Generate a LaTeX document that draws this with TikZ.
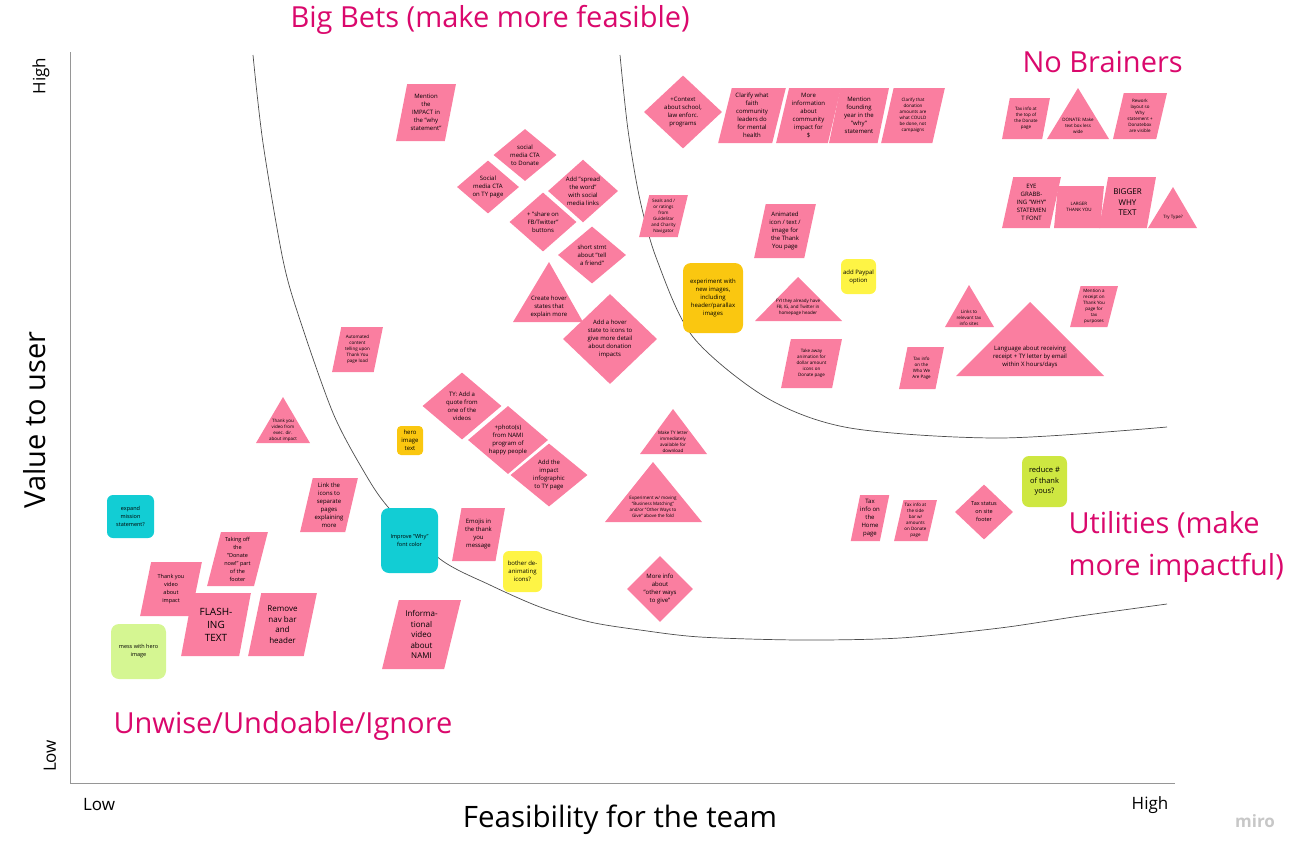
\documentclass[tikz,border=0pt]{standalone}
\usepackage{fontspec}
\setmainfont{Open Sans}
\usetikzlibrary{shapes.geometric}

\definecolor{notepink}{RGB}{250,126,160}
\definecolor{noteorange}{RGB}{250,199,16}
\definecolor{notecyan}{RGB}{18,205,212}
\definecolor{noteyellow}{RGB}{254,244,69}
\definecolor{notegreen}{RGB}{213,246,146}
\definecolor{notelime}{RGB}{206,231,65}
\definecolor{titlemag}{RGB}{218,8,108}
\definecolor{axisgray}{RGB}{150,150,150}

\begin{document}
\begin{tikzpicture}[
			x=1pt, y=-1pt,
			note/.style={inner sep=0pt, align=center, font=\fontsize{6}{8}\selectfont},
			tinytext/.style={font=\fontsize{4.5}{6}\selectfont},
			bigtext/.style={font=\fontsize{8}{10.5}\selectfont},
			hugetext/.style={font=\fontsize{10}{13}\selectfont},
			para/.style={note, trapezium, trapezium left angle=76, trapezium right angle=104,
					trapezium stretches=true, fill=notepink},
			dia/.style={note, diamond, fill=notepink},
			card/.style={note, rectangle, rounded corners=6pt},
			tri/.style={fill=notepink},
			zone/.style={text=titlemag, font=\fontsize{29}{42}\selectfont, align=left},
			axisline/.style={draw=axisgray, line width=1pt},
			boundary/.style={draw=black!70, line width=0.7pt},
			axislabel/.style={font=\fontsize{17}{20}\selectfont}
		]
		\useasboundingbox (0,0) rectangle (1304,854);

		% Axes and zone boundaries
		\draw[axisline] (70,52) -- (70,783) -- (1175,783);
		\draw[boundary] plot[smooth, tension=0.5] coordinates {(253,55) (263,143) (283,260) (300,320)
				(333,413) (363,470) (388,507) (440,559) (490,585) (540,607) (590,622) (640,630)
				(700,637) (800,640) (900,638) (1000,628) (1080,616) (1167,604)};
		\draw[boundary] plot[smooth, tension=0.5] coordinates {(620,55) (628,130) (640,200) (657,260)
				(693,337) (767,398) (850,428) (1000,438) (1167,427)};

		% Axis labels
		\node[axislabel, rotate=90] (yhigh) at (41,76) {High};
		\node[axislabel, rotate=90] (ylow) at (50,756) {Low};
		\node[axislabel] (xlow) at (99,805) {Low};
		\node[axislabel] (xhigh) at (1150,805) {High};
		\node[font=\fontsize{29}{32}\selectfont, rotate=90] (valuelabel) at (35,420) {Value to user};
		\node[font=\fontsize{29.5}{32}\selectfont] (feaslabel) at (620,820) {Feasibility for the team};
		\node[font=\fontsize{17}{20}\bfseries, text=black!22] (miro) at (1255,821) {miro};

		% Zone titles
		\node[zone, anchor=west] (bigbets) at (287,20) {Big Bets (make more feasible)};
		\node[zone, anchor=west] (nobrainers) at (1019,62) {No Brainers};
		\node[zone, anchor=base west] (utilities) at (1065,575) {Utilities (make\\more impactful)};
		\node[zone, anchor=base west] (unwise) at (110,733) {Unwise/Undoable/Ignore};

		% Big bets
		\node[para, minimum width=60, minimum height=57] (impact) at (426,112.5) {Mention\\the\\IMPACT in\\the "why\\statement"};
		\node[dia, minimum width=63, minimum height=52] (smdonate) at (525,155) {social\\media CTA\\to Donate};
		\node[dia, minimum width=62, minimum height=53] (smty) at (488,187) {Social\\media CTA\\on TY page};
		\node[dia, minimum width=70, minimum height=62] (spread) at (583,191) {Add "spread\\the word"\\with social\\media links};
		\node[dia, minimum width=67, minimum height=59] (share) at (543,222) {+ "share on\\FB/Twitter"\\buttons};
		\node[dia, minimum width=68, minimum height=57] (tellfriend) at (592,255) {short stmt\\about "tell\\a friend"};
		\fill[tri] (513,322) -- (549,262) -- (583,322) -- cycle;
		\node[note] (createhover) at (549,307) {Create hover\\states that\\explain more};
		\node[dia, minimum width=94, minimum height=90] (hovericons) at (610,339) {Add a hover\\state to icons to\\give more detail\\about donation\\impacts};
		\node[para, tinytext, minimum width=51, minimum height=45] (automated) at (357.5,349.5) {Automated\\content\\telling upon\\Thank You\\page load};
		\fill[tri] (256,443) -- (283,397) -- (310,443) -- cycle;
		\node[note, tinytext] (execvideo) at (283,430) {Thank you\\video from\\exec. dir.\\about impact};
		\node[dia, minimum width=79, minimum height=67] (quote) at (462,406) {TY: Add a\\quote from\\one of the\\videos};
		\node[card, fill=noteorange, minimum width=26, minimum height=29, rounded corners=4pt] (herotext) at (410,440.5) {hero\\image\\text};
		\node[dia, minimum width=80, minimum height=63] (photos) at (508,440) {+photo(s)\\from NAMI\\program of\\happy people};
		\node[dia, minimum width=77, minimum height=63] (infographic) at (549,475) {Add the\\impact\\infographic\\to TY page};

		% No brainers
		\node[dia, minimum width=78, minimum height=73] (context) at (683,112) {+Context\\about school,\\law enforc.\\programs};
		\node[para, minimum width=68, minimum height=55] (faith) at (752,115.5) {Clarify what\\faith\\community\\leaders do\\for mental\\health};
		\node[para, minimum width=65, minimum height=55] (moreinfo) at (808.5,115.5) {More\\information\\about\\community\\impact for\\\$};
		\node[para, minimum width=60, minimum height=55] (founding) at (859,115.5) {Mention\\founding\\year in the\\"why"\\statement};
		\node[para, tinytext, minimum width=64, minimum height=55] (amounts) at (913,115.5) {Clarify that\\donation\\amounts are\\what COULD\\be done, not\\campaigns};
		\node[para, tinytext, minimum width=49, minimum height=42] (seals) at (663.5,216) {Seals and /\\or ratings\\from\\GuideStar\\and Charity\\Navigator};
		\node[para, minimum width=62, minimum height=54] (animated) at (785,231) {Animated\\icon / text /\\image for\\the Thank\\You page};
		\node[para, tinytext, minimum width=48, minimum height=41] (taxtop) at (1026,118.5) {Tax info at\\the top of\\the Donate\\page};
		\fill[tri] (1047,139) -- (1078,88) -- (1109,139) -- cycle;
		\node[note, tinytext] (donatewide) at (1078,126) {DONATE: Make\\text box less\\wide};
		\node[para, tinytext, minimum width=54, minimum height=46] (rework) at (1140,116) {Rework\\layout so\\Why\\statement +\\Donatebox\\are visible};
		\node[para, minimum width=59, minimum height=51] (eyegrab) at (1031.5,202.5) {EYE\\GRABB-\\ING "WHY"\\STATEMEN\\T FONT};
		\node[para, tinytext, minimum width=50, minimum height=42] (larger) at (1079,207) {LARGER\\THANK YOU};
		\node[para, bigtext, minimum width=57, minimum height=51] (bigger) at (1127.5,202.5) {BIGGER\\WHY\\TEXT};
		\fill[tri] (1148,228) -- (1173,187) -- (1197,228) -- cycle;
		\node[note, tinytext] (trytype) at (1173,217) {Try Type?};
		\node[card, fill=noteorange, minimum width=60, minimum height=70, rounded corners=8pt] (experiment) at (713,298) {experiment with\\new images,\\including\\header/parallax\\images};
		\node[card, fill=noteyellow, minimum width=35, minimum height=35] (paypal) at (858.5,276.5) {add Paypal\\option};
		\fill[tri] (755,321) -- (798,277) -- (842,321) -- cycle;
		\node[note, tinytext] (fyi) at (798,307) {FYI they already have\\FB, IG, and Twitter in\\homepage header};
		\node[para, tinytext, minimum width=61, minimum height=49] (takeaway) at (811.5,363.5) {Take away\\animation for\\dollar amount\\icons on\\Donate page};
		\fill[tri] (945,327) -- (969,285) -- (994,327) -- cycle;
		\node[note, tinytext] (taxlinks) at (969,318) {Links to\\relevant tax\\info sites};
		\node[para, tinytext, minimum width=48, minimum height=41] (receipt) at (1094,306.5) {Mention a\\receipt on\\Thank You\\page for\\tax\\purposes};
		\node[para, tinytext, minimum width=45, minimum height=42] (taxwho) at (921.5,368) {Tax info\\on the\\Who We\\Are Page};
		\fill[tri] (956,376) -- (1030,302) -- (1104,376) -- cycle;
		\node[note] (language) at (1030,357) {Language about receiving\\receipt + TY letter by email\\within X hours/days};

		% Utilities
		\fill[tri] (640,454) -- (673,409) -- (707,454) -- cycle;
		\node[note, tinytext] (tyletter) at (673,442) {Make TY letter\\immediately\\available for\\download};
		\fill[tri] (605,522) -- (653,462) -- (702,522) -- cycle;
		\node[note, tinytext] (moving) at (653,507) {Experiment w/ moving\\"Business Matching"\\and/or "Other Ways to\\Give" above the fold};
		\node[para, minimum width=53, minimum height=53] (emojis) at (478.5,534.5) {Emojis in\\the thank\\you\\message};
		\node[card, fill=noteyellow, minimum width=39, minimum height=41] (deanimate) at (522.5,571.5) {bother de-\\animating\\icons?};
		\node[dia, minimum width=66, minimum height=66] (otherways) at (660,589) {More info\\about\\"other ways\\to give"};
		\node[card, fill=notecyan, minimum width=57, minimum height=65, rounded corners=8pt, font=\fontsize{5.5}{7.5}\selectfont] (whycolor) at (409.5,540.5) {Improve "Why"\\font color};
		\node[para, minimum width=38, minimum height=46] (taxhome) at (870,518) {Tax\\info on\\the\\Home\\page};
		\node[para, tinytext, minimum width=43, minimum height=41] (taxside) at (915.5,520.5) {Tax info at\\the side\\bar w/\\amounts\\on Donate\\page};
		\node[dia, minimum width=58, minimum height=55, font=\fontsize{5.5}{8}\selectfont] (taxstatus) at (984,512) {Tax status\\on site\\footer};
		\node[card, fill=notelime, minimum width=45, minimum height=51, rounded corners=7pt, font=\fontsize{7.5}{10.5}\selectfont] (reduce) at (1044.5,481.5) {reduce \#\\of thank\\yous?};

		% Unwise / undoable
		\node[para, minimum width=58, minimum height=54] (linkicons) at (329,505) {Link the\\icons to\\separate\\pages\\explaining\\more};
		\node[card, fill=notecyan, minimum width=47, minimum height=43, font=\fontsize{5.5}{8}\selectfont] (mission) at (130.5,516.5) {expand\\mission\\statement?};
		\node[para, font=\fontsize{5.5}{8}\selectfont, minimum width=61, minimum height=54] (footer) at (237.5,559) {Taking off\\the\\"Donate\\now!" part\\of the\\footer};
		\node[para, font=\fontsize{5.5}{8}\selectfont, minimum width=62, minimum height=54] (impactvideo) at (171,589) {Thank you\\video\\about\\impact};
		\node[para, hugetext, minimum width=70, minimum height=63] (flashing) at (216,624.5) {FLASH-\\ING\\TEXT};
		\node[para, bigtext, minimum width=69, minimum height=63] (removenav) at (282.5,624.5) {Remove\\nav bar\\and\\header};
		\node[card, fill=notegreen, minimum width=55, minimum height=55, rounded corners=8pt, font=\fontsize{5.5}{8}\selectfont] (herohack) at (138.5,651.5) {mess with hero\\image};
		\node[para, bigtext, minimum width=79, minimum height=69] (namivideo) at (421.5,634.5) {Informa-\\tional\\video\\about\\NAMI};

	\end{tikzpicture}
\end{document}
